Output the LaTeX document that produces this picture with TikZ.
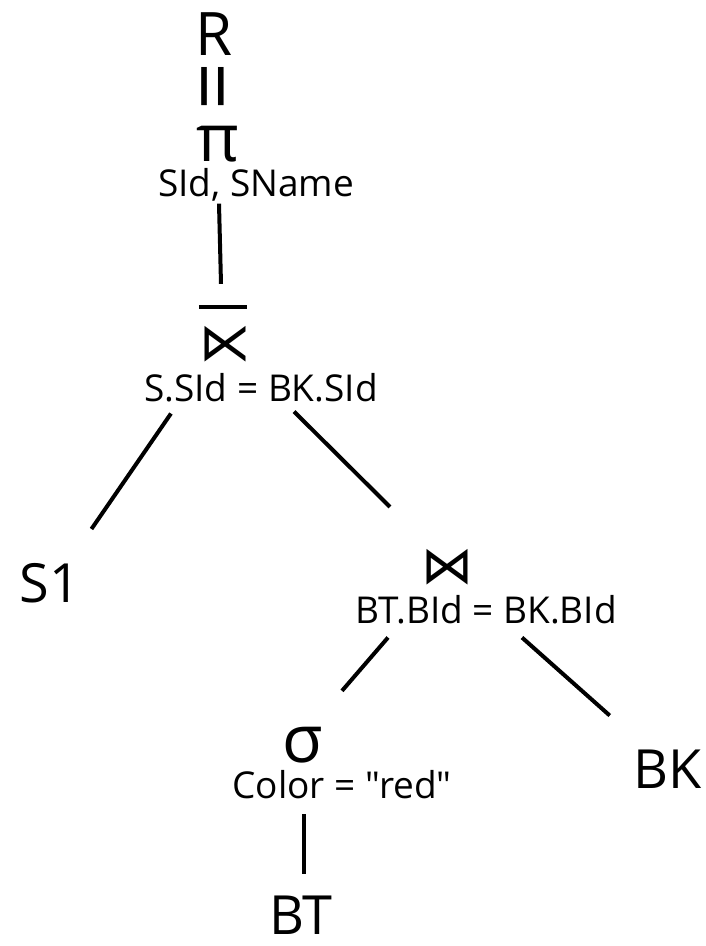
\documentclass[tikz,border=0pt]{standalone}
\usepackage{fontspec}
\setmainfont{Open Sans}[Ligatures=TeXOff]
\newfontfamily\symfont{DejaVu Sans}

\tikzset{
  relname/.style={inner sep=0pt, font=\fontsize{54}{54}\selectfont},
  opsym/.style={inner sep=0pt, font=\fontsize{66}{66}\selectfont},
  joinsym/.style={inner sep=0pt, font=\symfont\fontsize{52}{52}\selectfont},
  cond/.style={inner sep=0pt, font=\fontsize{37}{37}\selectfont},
  treeedge/.style={line width=4pt}
}

\begin{document}
\begin{tikzpicture}[x=1pt,y=-1pt]
  \useasboundingbox (0,0) rectangle (705,946);

  % Ergebnis
  \node[relname, font=\fontsize{60}{60}\selectfont] (res) at (214,34) {R};
  \node[inner sep=0pt, font=\fontsize{84}{84}\selectfont, rotate=90] (eqs) at (222,86) {=};

  % Projektion
  \node[opsym] (proj) at (218,144) {π};
  \node[cond] (projc) at (256,185) {SId, SName};

  % Antijoin
  \node[joinsym] (semi) at (225,344) {⋉};
  \draw[treeedge] ([shift={(0,-19)}]semi.north west) -- ([shift={(-4,-19)}]semi.north east);
  \node[cond] (semic) at (261,388) {S.SId = BK.SId};

  % Blaetter und Join
  \node[relname] (s1) at (50,583) {S1};
  \node[joinsym] (join) at (447,567) {⋈};
  \node[cond] (joinc) at (486,610) {BT.BId = BK.BId};
  \node[opsym] (sel) at (303,745) {σ};
  \node[cond] (selc) at (342,785) {Color = "red"};
  \node[relname] (bk) at (668,769) {BK};
  \node[relname] (bt) at (301,915) {BT};

  % Kanten
  \draw[treeedge] ([shift={(-37,2)}]projc.south) -- ([shift={(-4,-42)}]semi.north);
  \draw[treeedge] ([shift={(27,11)}]semic.south west) -- ([shift={(11,-34)}]s1.north east);
  \draw[treeedge] ([shift={(33,9)}]semic.south) -- ([shift={(-57,-42)}]join.north);
  \draw[treeedge] ([shift={(-98,13)}]joinc.south) -- ([shift={(39,-36)}]sel.north);
  \draw[treeedge] ([shift={(36,13)}]joinc.south) -- ([shift={(-24,-34)}]bk.north west);
  \draw[treeedge] ([shift={(-38,15)}]selc.south) -- ([shift={(3,-22)}]bt.north);
\end{tikzpicture}
\end{document}
